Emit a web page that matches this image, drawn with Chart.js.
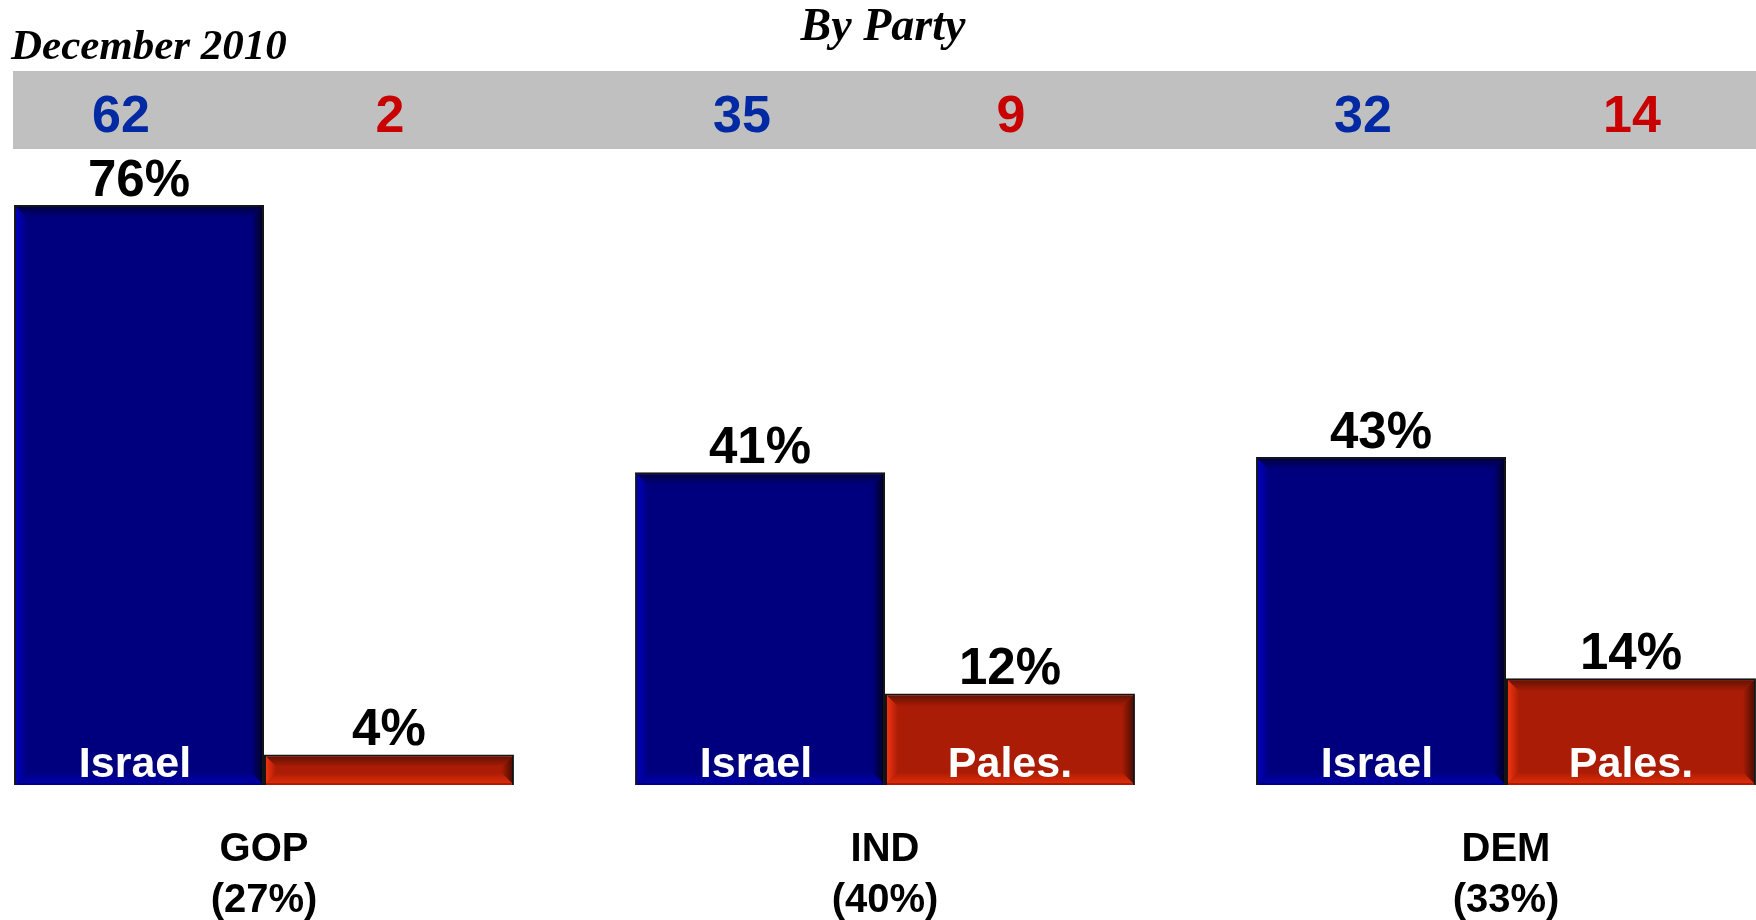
<!DOCTYPE html>
<html lang="en">
<head>
<meta charset="UTF-8" />
<title>By Party</title>
<script src="https://cdn.jsdelivr.net/npm/chart.js"></script>
<style>
  body { margin: 0; background: #fff; overflow: hidden; }
  #wrap { position: relative; width: 1756px; height: 920px; }
  #chart { position: absolute; left: 0; top: 0; }
  .ttl {
    position: absolute;
    font-family: "Liberation Serif", "Times New Roman", serif;
    font-weight: bold;
    font-style: italic;
    line-height: 1;
    white-space: nowrap;
    color: #000;
  }
  #date { left: 11px; top: 23px; font-size: 43px; }
  #party { left: 733px; width: 300px; top: 2px; font-size: 46px; text-align: center; }
</style>
</head>
<body>
<div id="wrap">
  <canvas id="chart" width="1756" height="920"></canvas>
  <div class="ttl" id="date">December 2010</div>
  <div class="ttl" id="party">By Party</div>
</div>
<script>
const categories = [["GOP", "(27%)"], ["IND", "(40%)"], ["DEM", "(33%)"]];
const seriesNames = ["Israel", "Pales."];
const israel = [76, 41, 43];
const pales = [4, 12, 14];
const bandIsrael = [62, 35, 32];
const bandPales = [2, 9, 14];

const sans = '"Liberation Sans", Arial, sans-serif';
const fills = ["#00007e", "#aa1c05"];
const bevels = [
  { top: "#000048", left: "#0000c0", bottom: "#0000aa", right: "#000028" },
  { top: "#641203", left: "#f03412", bottom: "#dc2c08", right: "#500d02" }
];
const bandColors = ["#0029a3", "#c80000"];

// one bevel face, shaded from the outer edge colour into the bar fill
function face(ctx, pts, g0, g1, col, fill) {
  const grad = ctx.createLinearGradient(g0[0], g0[1], g1[0], g1[1]);
  grad.addColorStop(0, col);
  grad.addColorStop(1, fill);
  ctx.beginPath();
  ctx.moveTo(pts[0][0], pts[0][1]);
  for (let i = 1; i < pts.length; i++) ctx.lineTo(pts[i][0], pts[i][1]);
  ctx.closePath();
  ctx.fillStyle = grad;
  ctx.fill();
}

const decor = {
  id: "decor",
  beforeDatasetsDraw(chart) {
    const ctx = chart.ctx;
    ctx.save();
    ctx.fillStyle = "#c0c0c0";
    ctx.fillRect(13, 71, chart.width - 13, 78);
    ctx.font = "bold 52px " + sans;
    ctx.textAlign = "center";
    ctx.textBaseline = "alphabetic";
    [bandIsrael, bandPales].forEach((vals, i) => {
      chart.getDatasetMeta(i).data.forEach((bar, j) => {
        ctx.fillStyle = bandColors[i];
        ctx.fillText(String(vals[j]), bar.x + (i === 0 ? -18 : 1), 132);
      });
    });
    ctx.restore();
  },
  afterDatasetsDraw(chart) {
    const ctx = chart.ctx;
    ctx.save();
    chart.data.datasets.forEach((ds, i) => {
      chart.getDatasetMeta(i).data.forEach((bar, j) => {
        const { x, y, width, base } = bar.getProps(["x", "y", "width", "base"], true);
        const l = x - width / 2 + 2, r = x + width / 2 - 2, t = y + 2, b = base - 2;
        const d = Math.min(11, (b - t) / 2.6);
        const c = bevels[i], f = fills[i];
        face(ctx, [[l, t], [r, t], [r - d, t + d], [l + d, t + d]], [0, t], [0, t + d], c.top, f);
        face(ctx, [[l, b], [l + d, b - d], [r - d, b - d], [r, b]], [0, b], [0, b - d], c.bottom, f);
        face(ctx, [[l, t], [l + d, t + d], [l + d, b - d], [l, b]], [l, 0], [l + d, 0], c.left, f);
        face(ctx, [[r, t], [r, b], [r - d, b - d], [r - d, t + d]], [r, 0], [r - d, 0], c.right, f);

        ctx.textAlign = "center";
        ctx.textBaseline = "alphabetic";
        ctx.fillStyle = "#000";
        ctx.font = "bold 51px " + sans;
        ctx.fillText(ds.data[j] + "%", x, y - 9);
        if (base - y > 60) {
          ctx.fillStyle = "#fff";
          ctx.font = "bold 43px " + sans;
          ctx.fillText(seriesNames[i], x + (i === 0 ? -4 : 0), base - 8);
        }
      });
    });
    ctx.restore();
  }
};

new Chart(document.getElementById("chart"), {
  type: "bar",
  data: {
    labels: categories,
    datasets: [
      {
        label: seriesNames[0],
        data: israel,
        backgroundColor: fills[0],
        borderColor: "#141414",
        borderWidth: 2,
        clip: false
      },
      {
        label: seriesNames[1],
        data: pales,
        backgroundColor: fills[1],
        borderColor: "#141414",
        borderWidth: 2,
        clip: false
      }
    ]
  },
  options: {
    responsive: false,
    animation: false,
    categoryPercentage: 0.805,
    barPercentage: 1,
    layout: { padding: { left: 264, right: 250, top: 22, bottom: 0 } },
    plugins: { legend: { display: false }, tooltip: { enabled: false } },
    scales: {
      x: {
        offset: false,
        grid: { display: false, drawTicks: false },
        border: { display: false },
        ticks: {
          color: "#000",
          padding: 39,
          maxRotation: 0,
          autoSkip: false,
          font: { family: sans, size: 40, weight: "bold", lineHeight: 1.275 }
        },
        afterFit(scale) { scale.height = 135; }
      },
      y: { display: false, min: 0, max: 100 }
    }
  },
  plugins: [decor]
});
</script>
</body>
</html>
